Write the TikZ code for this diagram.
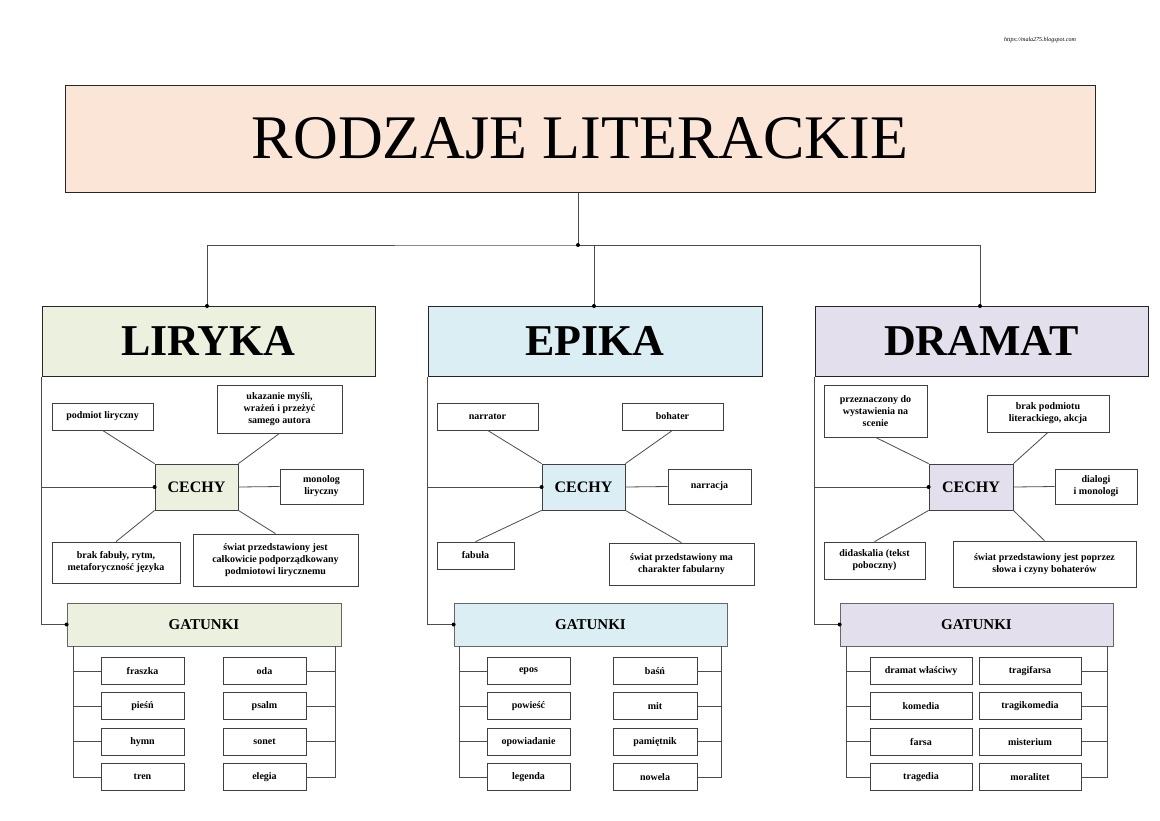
\documentclass[tikz,border=0pt]{standalone}
\usepackage{fontspec}
\setmainfont{Liberation Serif}
\begin{document}
\begin{tikzpicture}[x=1pt,y=-1pt,line width=0.8pt,
  box/.style={draw=black!75,line width=0.7pt,align=center,inner sep=1pt,font=\bfseries\fontsize{10}{12}\selectfont},
  head/.style={draw=black!85,line width=1pt,font=\bfseries\fontsize{44}{48}\selectfont},
  cech/.style={draw=black!75,font=\bfseries\fontsize{16}{18}\selectfont},
  gat/.style={draw=black!60,font=\bfseries\fontsize{15}{18}\selectfont},
  item/.style={draw=black!75,line width=0.7pt,font=\bfseries\fontsize{10}{12}\selectfont},
  ln/.style={draw=black!70,line width=0.8pt},
  dot/.style={circle,fill=black,inner sep=0pt,minimum size=4pt}]
\useasboundingbox (0,0) rectangle (1160,820);
\fill[white] (0,0) rectangle (1160,820);
\node[font=\itshape\fontsize{6}{7}\selectfont] (url) at (1040,40) {https://mala275.blogspot.com};
\node[draw=black!85,line width=1pt,fill={rgb,255:red,251;green,229;blue,214},minimum width=1030,minimum height=107,font=\fontsize{62}{66}\selectfont] (title) at (580,138.5) {RODZAJE LITERACKIE};
% headings
\node[head,fill={rgb,255:red,235;green,241;blue,222},minimum width=333,minimum height=70] (lir) at (208.5,341) {LIRYKA};
\node[head,fill={rgb,255:red,218;green,238;blue,243},minimum width=334,minimum height=70] (epi) at (595,341) {EPIKA};
\node[head,fill={rgb,255:red,228;green,223;blue,236},minimum width=333,minimum height=70] (dra) at (981.5,341) {DRAMAT};
\coordinate (hub) at (578,245);
\draw[ln] (title.south -| hub) -- (hub);
\draw[ln] (lir.north -| 207,0) |- (hub) -| (epi.north -| 594,0);
\draw[ln] (hub) -| (dra.north -| 980,0);
\foreach \p in {(578,245),(207,306),(594,306),(980,306)} \node[dot] at \p {};
% ---------- LIRYKA
\node[cech,fill={rgb,255:red,235;green,241;blue,222},minimum width=83,minimum height=46] (lc) at (196.5,487) {CECHY};
\node[box,minimum width=101,minimum height=27] (l1) at (102.5,416.5) {podmiot liryczny};
\node[box,minimum width=125,minimum height=48] (l2) at (279.5,409) {ukazanie myśli,\\wrażeń i przeżyć\\samego autora};
\node[box,minimum width=83,minimum height=35] (l3) at (321.5,486.5) {monolog\\liryczny};
\node[box,minimum width=128,minimum height=41] (l4) at (116,562.5) {brak fabuły, rytm,\\metaforyczność języka};
\node[box,minimum width=165,minimum height=52] (l5) at (275.5,560) {świat przedstawiony jest\\całkowicie podporządkowany\\podmiotowi lirycznemu};
\draw[ln] (lc.north west) -- (l1.south) (lc.north east) -- (l2.south) (lc.east) -- (l3.west) (lc.south west) -- (l4.north) (lc.south east) -- (l5.north);
\node[gat,fill={rgb,255:red,235;green,241;blue,222},minimum width=274,minimum height=43] (lg) at (204,624.5) {GATUNKI};
\draw[ln] (lir.south west) |- (lg.west);
\draw[ln] (lir.south west |- lc.west) -- (lc.west);
\node[dot] at (lc.west) {}; \node[dot] at (lg.west) {};
\foreach \t/\r [count=\i] in {fraszka/oda,pieśń/psalm,hymn/sonet,tren/elegia}{
  \pgfmathsetmacro\yy{671+35.3*(\i-1)}
  \node[item,minimum width=83,minimum height=27] (ll\i) at (142.5,\yy) {\t};
  \node[item,minimum width=83,minimum height=27] (lr\i) at (264.5,\yy) {\r};
  \draw[ln] (73,646) |- (ll\i.west);
  \draw[ln] (335,646) |- (lr\i.east);
}
% ---------- EPIKA
\node[cech,fill={rgb,255:red,218;green,238;blue,243},minimum width=83,minimum height=46] (ec) at (583.5,487) {CECHY};
\node[box,minimum width=101,minimum height=27] (e1) at (487.5,416.5) {narrator};
\node[box,minimum width=101,minimum height=27] (e2) at (672.5,416.5) {bohater};
\node[box,minimum width=83,minimum height=35] (e3) at (709.5,486.5) {narracja};
\node[box,minimum width=77,minimum height=27] (e4) at (475.5,555.5) {fabuła};
\node[box,minimum width=145,minimum height=42] (e5) at (681.5,564) {świat przedstawiony ma\\charakter fabularny};
\draw[ln] (ec.north west) -- (e1.south) (ec.north east) -- (e2.south) (ec.east) -- (e3.west) (ec.south west) -- (e4.north) (ec.south east) -- (e5.north);
\node[gat,fill={rgb,255:red,218;green,238;blue,243},minimum width=273,minimum height=43] (eg) at (590.5,624.5) {GATUNKI};
\draw[ln] (epi.south west) |- (eg.west);
\draw[ln] (epi.south west |- ec.west) -- (ec.west);
\node[dot] at (ec.west) {}; \node[dot] at (eg.west) {};
\foreach \t/\r [count=\i] in {epos/baśń,powieść/mit,opowiadanie/pamiętnik,legenda/nowela}{
  \pgfmathsetmacro\yy{671+35.3*(\i-1)}
  \node[item,minimum width=83,minimum height=27] (el\i) at (528.5,\yy) {\t};
  \node[item,minimum width=84,minimum height=27] (er\i) at (655,\yy) {\r};
  \draw[ln] (459,646) |- (el\i.west);
  \draw[ln] (721,646) |- (er\i.east);
}
% ---------- DRAMAT
\node[cech,fill={rgb,255:red,228;green,223;blue,236},minimum width=84,minimum height=46] (dc) at (971,487) {CECHY};
\node[box,minimum width=103,minimum height=52] (d1) at (875.5,411) {przeznaczony do\\wystawienia na\\scenie};
\node[box,minimum width=122,minimum height=37] (d2) at (1048,413.5) {brak podmiotu\\literackiego, akcja};
\node[box,minimum width=82,minimum height=35] (d3) at (1096,486.5) {dialogi\\i monologi};
\node[box,minimum width=101,minimum height=37] (d4) at (874.5,560.5) {didaskalia (tekst\\poboczny)};
\node[box,minimum width=183,minimum height=46] (d5) at (1044.5,564) {świat przedstawiony jest poprzez\\słowa i czyny bohaterów};
\draw[ln] (dc.north west) -- (d1.south) (dc.north east) -- (d2.south) (dc.east) -- (d3.west) (dc.south west) -- (d4.north) (dc.south east) -- (d5.north);
\node[gat,fill={rgb,255:red,228;green,223;blue,236},minimum width=273,minimum height=43] (dg) at (976.5,624.5) {GATUNKI};
\draw[ln] (dra.south west) |- (dg.west);
\draw[ln] (dra.south west |- dc.west) -- (dc.west);
\node[dot] at (dc.west) {}; \node[dot] at (dg.west) {};
\foreach \t/\r [count=\i] in {dramat właściwy/tragifarsa,komedia/tragikomedia,farsa/misterium,tragedia/moralitet}{
  \pgfmathsetmacro\yy{671+35.3*(\i-1)}
  \node[item,minimum width=102,minimum height=27] (dl\i) at (921,\yy) {\t};
  \node[item,minimum width=102,minimum height=27] (dr\i) at (1030,\yy) {\r};
  \draw[ln] (846,646) |- (dl\i.west);
  \draw[ln] (1107,646) |- (dr\i.east);
}
\end{tikzpicture}
\end{document}
